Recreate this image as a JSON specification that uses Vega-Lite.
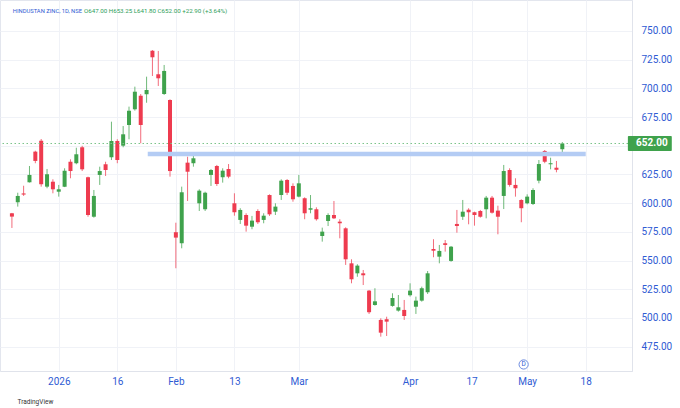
{
  "$schema": "https://vega.github.io/schema/vega-lite/v6.json",
  "width": 632,
  "height": 371,
  "autosize": {"type": "none"},
  "padding": {"left": 0, "top": 0, "right": 48, "bottom": 37},
  "background": "#ffffff",
  "config": {"view": {"stroke": "#e3e6ee"}, "font": "Roboto"},
  "datasets": {
    "candles": [
      {"i":1,"o":591.2,"h":591.5,"l":578.4,"c":588.3},
      {"i":2,"o":600.8,"h":609.1,"l":597.0,"c":606.3},
      {"i":3,"o":608.5,"h":615.2,"l":606.3,"c":607.5},
      {"i":4,"o":618.2,"h":632.4,"l":618.0,"c":624.6},
      {"i":5,"o":644.9,"h":645.7,"l":634.8,"c":636.8},
      {"i":6,"o":654.4,"h":655.9,"l":614.4,"c":616.5},
      {"i":7,"o":614.4,"h":629.8,"l":613.0,"c":625.2},
      {"i":8,"o":618.7,"h":620.8,"l":608.6,"c":612.1},
      {"i":9,"o":610.0,"h":615.9,"l":605.7,"c":612.1},
      {"i":10,"o":614.4,"h":630.4,"l":614.0,"c":628.3},
      {"i":11,"o":636.1,"h":638.2,"l":621.7,"c":628.0},
      {"i":12,"o":634.8,"h":648.3,"l":633.9,"c":642.6},
      {"i":13,"o":648.7,"h":650.0,"l":628.0,"c":629.5},
      {"i":14,"o":622.6,"h":623.1,"l":588.2,"c":589.7},
      {"i":15,"o":588.2,"h":611.5,"l":587.4,"c":606.3},
      {"i":16,"o":624.6,"h":631.8,"l":615.9,"c":628.0},
      {"i":17,"o":633.9,"h":636.1,"l":623.7,"c":628.9},
      {"i":18,"o":640.0,"h":671.0,"l":637.6,"c":654.2},
      {"i":19,"o":654.2,"h":655.7,"l":634.8,"c":637.6},
      {"i":20,"o":650.1,"h":667.2,"l":648.7,"c":660.0},
      {"i":21,"o":668.1,"h":684.1,"l":655.7,"c":680.6},
      {"i":22,"o":681.8,"h":701.5,"l":680.6,"c":697.1},
      {"i":23,"o":693.6,"h":695.1,"l":652.2,"c":668.1},
      {"i":24,"o":694.9,"h":710.2,"l":687.5,"c":698.6},
      {"i":25,"o":732.8,"h":733.4,"l":710.8,"c":727.1},
      {"i":26,"o":712.3,"h":732.6,"l":702.1,"c":708.8},
      {"i":27,"o":695.1,"h":720.4,"l":694.3,"c":715.2},
      {"i":28,"o":689.9,"h":690.5,"l":623.1,"c":628.0},
      {"i":29,"o":574.7,"h":583.0,"l":543.3,"c":570.0},
      {"i":30,"o":565.1,"h":614.4,"l":560.7,"c":609.5},
      {"i":31,"o":635.3,"h":640.5,"l":601.9,"c":627.4},
      {"i":32,"o":634.8,"h":643.5,"l":631.8,"c":639.1},
      {"i":33,"o":599.9,"h":612.1,"l":593.2,"c":610.9},
      {"i":34,"o":594.7,"h":610.0,"l":593.2,"c":609.1},
      {"i":35,"o":624.6,"h":629.8,"l":615.0,"c":628.9},
      {"i":36,"o":632.4,"h":633.3,"l":615.0,"c":616.7},
      {"i":37,"o":622.6,"h":630.4,"l":617.9,"c":628.3},
      {"i":38,"o":629.8,"h":634.1,"l":621.7,"c":623.1},
      {"i":39,"o":599.9,"h":608.6,"l":589.1,"c":592.1},
      {"i":40,"o":585.4,"h":595.6,"l":581.9,"c":594.1},
      {"i":41,"o":589.7,"h":591.2,"l":575.2,"c":580.4},
      {"i":42,"o":579.5,"h":588.9,"l":577.3,"c":584.8},
      {"i":43,"o":593.2,"h":594.7,"l":581.9,"c":583.4},
      {"i":44,"o":585.4,"h":591.2,"l":582.5,"c":589.1},
      {"i":45,"o":607.1,"h":607.7,"l":588.9,"c":590.3},
      {"i":46,"o":592.6,"h":599.9,"l":589.7,"c":597.0},
      {"i":47,"o":607.1,"h":620.8,"l":602.8,"c":619.6},
      {"i":48,"o":620.2,"h":621.0,"l":607.1,"c":609.1},
      {"i":49,"o":615.0,"h":617.3,"l":601.3,"c":603.4},
      {"i":50,"o":605.7,"h":624.6,"l":605.1,"c":617.3},
      {"i":51,"o":604.3,"h":605.1,"l":586.0,"c":591.2},
      {"i":52,"o":594.3,"h":607.1,"l":591.2,"c":595.6},
      {"i":53,"o":594.7,"h":596.4,"l":584.8,"c":586.0},
      {"i":54,"o":571.4,"h":578.7,"l":566.5,"c":575.2},
      {"i":55,"o":584.5,"h":591.2,"l":580.1,"c":589.7},
      {"i":56,"o":589.7,"h":601.9,"l":586.2,"c":586.8},
      {"i":57,"o":583.9,"h":586.0,"l":569.4,"c":582.5},
      {"i":58,"o":578.1,"h":579.0,"l":546.2,"c":551.1},
      {"i":59,"o":547.6,"h":551.1,"l":530.2,"c":533.7},
      {"i":60,"o":538.9,"h":546.8,"l":535.9,"c":545.6},
      {"i":61,"o":538.9,"h":541.8,"l":528.7,"c":537.2},
      {"i":62,"o":523.8,"h":524.4,"l":503.5,"c":505.0},
      {"i":63,"o":511.3,"h":525.9,"l":510.7,"c":514.5},
      {"i":64,"o":498.3,"h":499.7,"l":483.7,"c":487.2},
      {"i":65,"o":498.9,"h":501.1,"l":484.3,"c":496.8},
      {"i":66,"o":510.5,"h":521.5,"l":509.8,"c":517.4},
      {"i":67,"o":506.4,"h":520.0,"l":505.5,"c":509.3},
      {"i":68,"o":507.0,"h":515.7,"l":498.3,"c":501.7},
      {"i":69,"o":519.8,"h":530.2,"l":518.6,"c":523.8},
      {"i":70,"o":509.8,"h":518.6,"l":503.5,"c":515.1},
      {"i":71,"o":515.1,"h":527.3,"l":514.2,"c":525.9},
      {"i":72,"o":522.4,"h":540.9,"l":520.9,"c":538.9},
      {"i":73,"o":560.1,"h":568.6,"l":552.9,"c":558.6},
      {"i":74,"o":553.4,"h":563.6,"l":547.6,"c":558.4},
      {"i":75,"o":565.1,"h":567.9,"l":557.8,"c":563.6},
      {"i":76,"o":549.7,"h":562.7,"l":549.0,"c":562.1},
      {"i":77,"o":581.9,"h":594.1,"l":574.3,"c":580.1},
      {"i":78,"o":588.2,"h":602.8,"l":585.4,"c":592.6},
      {"i":79,"o":594.3,"h":595.6,"l":581.6,"c":592.1},
      {"i":80,"o":592.1,"h":592.6,"l":580.4,"c":589.7},
      {"i":81,"o":593.2,"h":594.1,"l":587.4,"c":588.2},
      {"i":82,"o":594.7,"h":606.3,"l":586.8,"c":604.8},
      {"i":83,"o":604.8,"h":606.3,"l":590.9,"c":591.7},
      {"i":84,"o":593.5,"h":597.8,"l":572.9,"c":588.2},
      {"i":85,"o":606.3,"h":633.3,"l":594.9,"c":628.0},
      {"i":86,"o":628.9,"h":630.4,"l":614.4,"c":615.9},
      {"i":87,"o":615.9,"h":621.7,"l":605.7,"c":613.0},
      {"i":88,"o":602.8,"h":603.4,"l":583.4,"c":595.6},
      {"i":89,"o":599.9,"h":607.7,"l":599.0,"c":605.7},
      {"i":90,"o":599.3,"h":613.0,"l":598.4,"c":611.5},
      {"i":91,"o":619.6,"h":637.6,"l":617.3,"c":634.1},
      {"i":92,"o":645.5,"h":646.3,"l":634.8,"c":636.1},
      {"i":93,"o":633.9,"h":639.6,"l":629.5,"c":634.8},
      {"i":94,"o":630.9,"h":636.8,"l":626.9,"c":629.1},
      {"i":95,"o":647.0,"h":653.25,"l":641.8,"c":652.0}
    ],
    "level": [{"from": 24.2, "to": 99, "price": 642.9}]
  },
  "data": {"name": "candles"},
  "layer": [
    {
      "mark": {"type": "rule", "strokeWidth": 1, "opacity": 0.75},
      "encoding": {
        "x": {"field": "i", "type": "quantitative",
          "scale": {"domain": [-0.18, 106.05], "nice": false, "zero": false},
          "axis": {
            "values": [9, 19, 29, 39, 50, 69, 79.5, 89, 99],
            "tickCount": 30,
            "labelExpr": "datum.value == 9 ? '2026' : datum.value == 19 ? '16' : datum.value == 29 ? 'Feb' : datum.value == 39 ? '13' : datum.value == 50 ? 'Mar' : datum.value == 69 ? 'Apr' : datum.value == 79.5 ? '17' : datum.value == 89 ? 'May' : '18'",
            "ticks": false, "labelPadding": 5, "labelFontSize": 10, "labelColor": "#2f5bd3",
            "labelFont": "Roboto", "labelOverlap": false, "domainColor": "#e0e3eb",
            "grid": true, "gridColor": "#f0f2f7",
            "title": "TradingView", "titleFontSize": 6.5, "titleFontWeight": "normal", "titleColor": "#333333",
            "titleX": 17, "titleY": 30, "titleAlign": "left", "titleBaseline": "middle", "titleAnchor": "start"
          }},
        "y": {"field": "l", "type": "quantitative",
          "scale": {"domain": [453.8, 777], "nice": false, "zero": false},
          "axis": {
            "orient": "right",
            "values": [475, 500, 525, 550, 575, 600, 625, 650, 675, 700, 725, 750],
            "tickCount": 30,
            "labelExpr": "datum.value == 650 ? '' : format(datum.value, '.2f')",
            "ticks": false, "labelPadding": 9, "labelFontSize": 10, "labelColor": "#2f5bd3",
            "labelFont": "Roboto", "labelOverlap": false, "domainColor": "#e0e3eb",
            "grid": true, "gridColor": "#f0f2f7", "title": null
          }},
        "y2": {"field": "h"},
        "color": {"condition": {"test": "datum.c >= datum.o", "value": "#3fa24c"}, "value": "#ee3b4f"}
      }
    },
    {
      "mark": {"type": "bar", "size": 4},
      "encoding": {
        "x": {"field": "i", "type": "quantitative", "scale": {"domain": [-0.18, 106.05], "nice": false, "zero": false}},
        "y": {"field": "o", "type": "quantitative", "scale": {"domain": [453.8, 777], "nice": false, "zero": false}},
        "y2": {"field": "c"},
        "color": {"condition": {"test": "datum.c >= datum.o", "value": "#3fa24c"}, "value": "#ee3b4f"}
      }
    },
    {
      "mark": {"type": "rule", "strokeDash": [1.5, 2.5], "color": "#7cc48a", "strokeWidth": 1},
      "transform": [{"filter": "datum.i == 95"}],
      "encoding": {
        "y": {"field": "c", "type": "quantitative", "scale": {"domain": [453.8, 777], "nice": false, "zero": false}}
      }
    },
    {
      "data": {"name": "level"},
      "mark": {"type": "rule", "strokeWidth": 4.5, "color": "#b4ccf4"},
      "encoding": {
        "x": {"field": "from", "type": "quantitative", "scale": {"domain": [-0.18, 106.05], "nice": false, "zero": false}},
        "x2": {"field": "to"},
        "y": {"field": "price", "type": "quantitative", "scale": {"domain": [453.8, 777], "nice": false, "zero": false}}
      }
    },
    {
      "data": {"values": [{}]},
      "mark": {"type": "rect", "color": "#3fa24c", "cornerRadius": 1},
      "encoding": {
        "x": {"datum": 106.2, "type": "quantitative", "scale": {"domain": [-0.18, 106.05], "nice": false, "zero": false}},
        "x2": {"datum": 113.7},
        "y": {"datum": 658.6, "type": "quantitative", "scale": {"domain": [453.8, 777], "nice": false, "zero": false}},
        "y2": {"datum": 645.4}
      }
    },
    {
      "transform": [{"filter": "datum.i == 95"}],
      "mark": {"type": "text", "align": "left", "baseline": "middle", "color": "#ffffff", "fontSize": 10, "fontWeight": "bold", "font": "Roboto"},
      "encoding": {
        "x": {"datum": 107.6, "type": "quantitative", "scale": {"domain": [-0.18, 106.05], "nice": false, "zero": false}},
        "y": {"field": "c", "type": "quantitative", "scale": {"domain": [453.8, 777], "nice": false, "zero": false}},
        "text": {"field": "c", "format": ".2f"}
      }
    },
    {
      "data": {"values": [{}]},
      "mark": {"type": "point", "shape": "circle", "size": 85, "filled": true, "fill": "#ffffff", "stroke": "#2f5bd3", "strokeWidth": 1},
      "encoding": {
        "x": {"datum": 88.4, "type": "quantitative", "scale": {"domain": [-0.18, 106.05], "nice": false, "zero": false}},
        "y": {"datum": 459.5, "type": "quantitative", "scale": {"domain": [453.8, 777], "nice": false, "zero": false}}
      }
    },
    {
      "data": {"values": [{}]},
      "mark": {"type": "text", "text": "D", "fontSize": 6.5, "color": "#2f5bd3", "baseline": "middle", "align": "center"},
      "encoding": {
        "x": {"datum": 88.4, "type": "quantitative", "scale": {"domain": [-0.18, 106.05], "nice": false, "zero": false}},
        "y": {"datum": 459.5, "type": "quantitative", "scale": {"domain": [453.8, 777], "nice": false, "zero": false}}
      }
    },
    {
      "data": {"values": [{}]},
      "mark": {"type": "text", "text": "HINDUSTAN ZINC, 1D, NSE", "fontSize": 5.8, "color": "#2f5bd3", "baseline": "middle", "align": "left", "font": "Roboto"},
      "encoding": {
        "x": {"datum": 1.15, "type": "quantitative", "scale": {"domain": [-0.18, 106.05], "nice": false, "zero": false}},
        "y": {"datum": 767.4, "type": "quantitative", "scale": {"domain": [453.8, 777], "nice": false, "zero": false}}
      }
    },
    {
      "data": {"values": [{}]},
      "mark": {"type": "text", "text": "O647.00  H653.25  L641.80  C652.00  +22.90 (+3.64%)", "fontSize": 6.2, "color": "#2e9e5a", "baseline": "middle", "align": "left", "font": "Roboto"},
      "encoding": {
        "x": {"datum": 13.3, "type": "quantitative", "scale": {"domain": [-0.18, 106.05], "nice": false, "zero": false}},
        "y": {"datum": 767.4, "type": "quantitative", "scale": {"domain": [453.8, 777], "nice": false, "zero": false}}
      }
    }
  ]
}
